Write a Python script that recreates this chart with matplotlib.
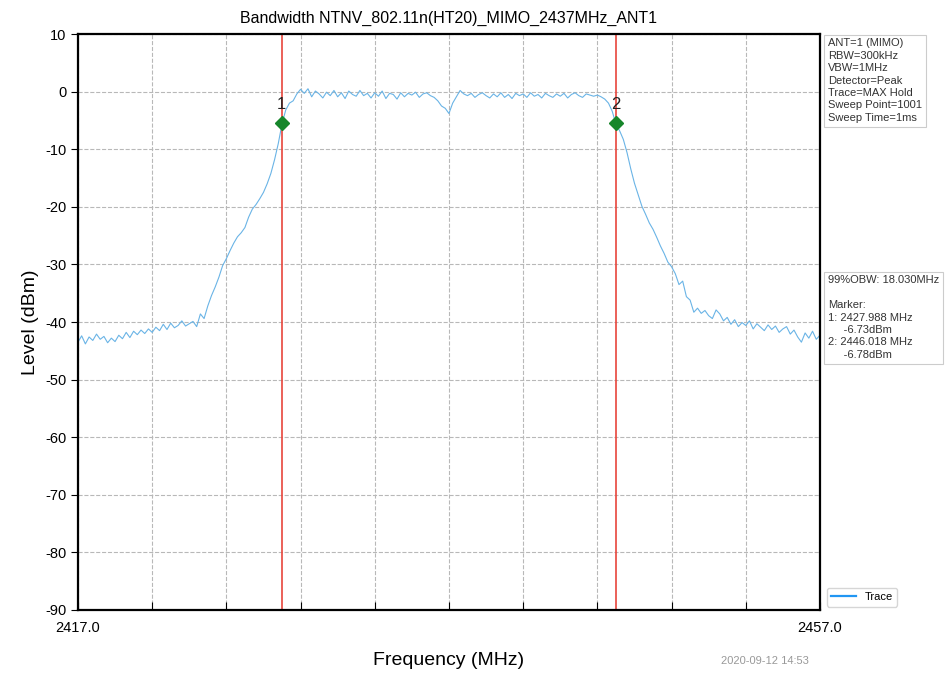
import matplotlib
matplotlib.use('Agg')
import matplotlib.pyplot as plt
from matplotlib.lines import Line2D
import numpy as np

plt.rcParams['font.family'] = ['Liberation Sans', 'DejaVu Sans']
plt.rcParams['axes.unicode_minus'] = False

# trace, 0.2 MHz steps from 2417.0 to 2457.0
f_start = 2417.0
f_stop = 2457.0
level = [
    -43.5, -42.4, -43.8, -42.6, -43.2, -42.1, -43.0, -42.5, -43.6, -42.8,
    -43.4, -42.3, -42.9, -41.8, -42.7, -41.6, -42.2, -41.4, -42.0, -41.2,
    -41.8, -40.9, -41.5, -40.4, -41.3, -40.2, -41.0, -40.6, -39.8, -40.7,
    -40.3, -39.9, -40.8, -38.6, -39.4, -37.2, -35.4, -33.9, -32.2, -30.2,
    -29.0, -27.6, -26.3, -25.2, -24.5, -23.6, -21.8, -20.4, -19.6, -18.6,
    -17.5, -16.0, -14.2, -11.8, -9.0, -5.6, -3.2, -2.0, -1.6, -0.4,
    0.4, -0.3, 0.5, -0.9, 0.1, -0.4, -1.1, -0.1, -0.7, 0.2,
    -0.9, -0.2, -1.2, 0.1, -0.5, -0.8, 0.2, -0.7, -0.3, -1.1,
    -0.2, -0.8, 0.1, -1.2, -0.3, -0.5, -1.3, -0.2, -0.9, -0.3,
    -0.6, -0.1, -1.0, -0.4, -0.2, -0.7, -1.0, -1.6, -2.5, -2.9,
    -3.8, -2.0, -0.9, 0.2, -0.4, -0.7, -0.3, -1.0, -0.5, -0.2,
    -0.7, -1.1, -0.4, -0.9, -0.2, -1.0, -0.5, -1.2, -0.3, -0.7,
    -0.4, -1.0, -0.2, -0.8, -0.5, -1.1, -0.3, -0.7, -1.0, -0.4,
    -0.8, -0.3, -1.1, -0.5, -0.2, -0.7, -1.0, -0.4, -0.6, -0.8,
    -0.6, -0.9, -1.3, -2.0, -3.4, -5.6, -6.8, -8.3, -10.6, -13.4,
    -15.9, -17.9, -19.9, -21.3, -22.8, -23.9, -25.3, -26.8, -28.1, -29.6,
    -30.4, -31.6, -33.5, -32.9, -35.6, -36.2, -38.3, -37.6, -38.5, -38.0,
    -38.9, -39.4, -37.9, -38.6, -39.8, -39.2, -40.4, -39.6, -40.8, -40.1,
    -40.6, -39.8, -41.2, -40.3, -40.9, -41.5, -40.5, -41.3, -40.7, -41.8,
    -41.2, -40.8, -42.1, -41.4, -42.6, -43.5, -41.9, -42.8, -41.6, -43.0,
    -42.3,
]
freq = np.linspace(f_start, f_stop, len(level))

marker_freq = [2427.988, 2446.018]
marker_level = [-5.5, -5.5]   # where the diamonds sit on the plot
marker_names = ['1', '2']

info_text = ("ANT=1 (MIMO)\nRBW=300kHz\nVBW=1MHz\nDetector=Peak\n"
             "Trace=MAX Hold\nSweep Point=1001\nSweep Time=1ms")
obw_text = ("99%OBW: 18.030MHz\n\nMarker:\n1: 2427.988 MHz\n     -6.73dBm\n"
            "2: 2446.018 MHz\n     -6.78dBm")

fig = plt.figure(figsize=(9.53, 6.75), dpi=100)
ax = fig.add_axes([0.0818, 0.0963, 0.7786, 0.8533])

ax.plot(freq, level, color='#6ab4e6', linewidth=0.8)
for fm, lm, name in zip(marker_freq, marker_level, marker_names):
    ax.axvline(fm, color='#e8453c', linewidth=1.2)
    ax.plot(fm, lm, marker='D', color='#16862a', markersize=7, zorder=5)
    ax.text(fm, lm + 2.0, name, ha='center', va='bottom', fontsize=12, color='#222222')

ax.set_xlim(f_start, f_stop)
ax.set_ylim(-90, 10)
xt = np.arange(2417, 2458, 4)
ax.set_xticks(xt)
ax.set_xticklabels(['2417.0'] + [''] * (len(xt) - 2) + ['2457.0'])
ax.set_yticks(np.arange(-90, 11, 10))
ax.tick_params(axis='x', direction='in', length=6, labelsize=10.5, pad=8)
ax.tick_params(axis='y', length=5, labelsize=10.5)
ax.grid(True, color='#b8b8b8', linestyle='--', linewidth=0.8)
for s in ax.spines.values():
    s.set_linewidth(1.6)

ax.set_title('Bandwidth NTNV_802.11n(HT20)_MIMO_2437MHz_ANT1', fontsize=11.5, pad=8)
ax.set_xlabel('Frequency (MHz)', fontsize=14, labelpad=12)
ax.set_ylabel('Level (dBm)', fontsize=14, labelpad=4)

box = dict(boxstyle='square,pad=0.35', facecolor='white', edgecolor='#cccccc', linewidth=0.8)
fig.text(0.869, 0.943, info_text, fontsize=8, va='top', ha='left', linespacing=1.3,
         color='#333333', bbox=box)
fig.text(0.869, 0.592, obw_text, fontsize=8, va='top', ha='left', linespacing=1.3,
         color='#333333', bbox=box)

handle = Line2D([], [], color='#2196f3', linewidth=1.6)
ax.legend([handle], ['Trace'], loc='lower left', bbox_to_anchor=(1.005, 0.0), fontsize=8,
          frameon=True, handlelength=2.2, borderaxespad=0.3)
fig.text(0.803, 0.016, '2020-09-12 14:53', fontsize=8, color='#999999', ha='center')

fig.savefig('out.png', dpi=100)
